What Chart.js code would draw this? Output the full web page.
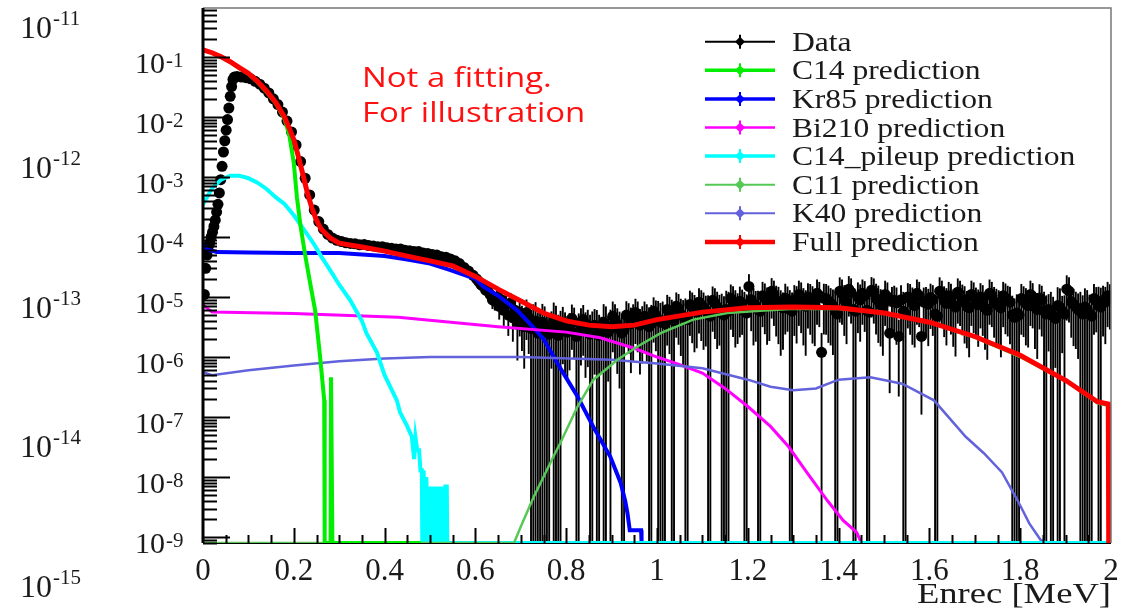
<!DOCTYPE html>
<html>
<head>
<meta charset="utf-8">
<title>Enrec spectrum</title>
<script src="https://cdn.jsdelivr.net/npm/chart.js@4.4.1/dist/chart.umd.min.js"></script>
<style>
  html, body { margin: 0; padding: 0; background: #fff; }
  #wrap { position: relative; width: 1135px; height: 612px; }
</style>
</head>
<body>
<div id="wrap"><canvas id="spectrum" width="1135" height="612"></canvas></div>
<script>
// axis range (log y), empty bins are drawn on the floor like ROOT does
const Y_MIN = 8e-10;
const Y_MAX = 0.65;
const X_MIN = 0;
const X_MAX = 2;

const yDecades = [-9, -8, -7, -6, -5, -4, -3, -2, -1];
const outerExponents = [-11, -12, -13, -14, -15];

const legendLabels = ['Data', 'C14 prediction', 'Kr85 prediction', 'Bi210 prediction',
  'C14_pileup prediction', 'C11 prediction', 'K40 prediction', 'Full prediction'];
const noteLines = ['Not a fitting.', 'For illustration'];
const xTitle = 'Enrec [MeV]';

// --- data: threshold rise ---
const riseX = [0.003, 0.006, 0.009, 0.012, 0.015, 0.018, 0.021, 0.024, 0.027, 0.030,
  0.033, 0.036, 0.039, 0.042, 0.045, 0.048, 0.051, 0.054, 0.057, 0.060, 0.063, 0.066, 0.069];
const riseY = [1.1e-5, 3e-5, 5e-5, 7e-5, 8e-5, 1e-4, 1.2e-4, 1.5e-4, 1.9e-4, 2.6e-4,
  3.5e-4, 5.4e-4, 9e-4, 1.5e-3, 2.6e-3, 4e-3, 6e-3, 9e-3, 1.4e-2, 2.2e-2, 3.2e-2, 4.2e-2, 4.6e-2];

// --- data: 0.01 MeV bins from 0.07 to 0.60 (centres 0.075 ...) ---
const coarseStart = 0.075;
const coarseWidth = 0.01;
const coarseY = [
  4.7e-2, 4.6e-2, 4.5e-2, 4.3e-2, 3.9e-2, 3.5e-2, 3.0e-2, 2.5e-2, 2.0e-2, 1.6e-2,
  1.2e-2, 8.5e-3, 5.6e-3, 3.4e-3, 1.8e-3, 9.5e-4, 5e-4, 2.8e-4, 1.8e-4, 1.35e-4,
  1.1e-4, 9.6e-5, 8.8e-5, 8.4e-5, 8e-5, 7.8e-5, 7.7e-5, 7.4e-5, 7.5e-5, 7.2e-5,
  7.1e-5, 6.9e-5, 6.9e-5, 6.6e-5, 6.5e-5, 6.3e-5, 6.3e-5, 6e-5, 5.9e-5, 5.7e-5,
  5.7e-5, 5.4e-5, 5.3e-5, 5.1e-5, 5e-5, 4.7e-5, 4.6e-5, 4.3e-5, 4e-5, 3.6e-5,
  3.1e-5, 2.7e-5, 2.3e-5
];
const coarseRelErr = [
  0, 0, 0, 0, 0, 0, 0, 0, 0, 0,
  0, 0, 0, 0, 0, 0, 0, 0, 0, 0,
  0.03, 0.03, 0.03, 0.03, 0.03, 0.03, 0.03, 0.03, 0.03, 0.03,
  0.04, 0.04, 0.04, 0.04, 0.04, 0.04, 0.04, 0.04, 0.04, 0.04,
  0.05, 0.05, 0.05, 0.06, 0.06, 0.06, 0.07, 0.07, 0.08, 0.08,
  0.08, 0.1, 0.12
];

// --- data: 0.005 MeV bins from 0.60 to 2.00 (centres 0.6025 ...), one row per 0.1 MeV ---
const fineStart = 0.6025;
const fineWidth = 0.005;
const fineY = [
  2.0e-5, 1.8e-5, 1.6e-5, 1.5e-5, 1.3e-5, 1.4e-5, 1.1e-5, 9e-6, 8.5e-6, 1e-5, 7e-6, 9e-6, 6e-6, 7.5e-6, 5e-6, 8e-6, 4.5e-6, 6e-6, 3.5e-6, 5.5e-6,
  4.2e-6, 3.2e-6, 5.5e-6, 4.5e-6, 3e-6, 3.6e-6, 4e-6, 2.5e-6, 2.8e-6, 3.8e-6, 3.4e-6, 2.6e-6, 2.4e-6, 3.2e-6, 4e-6, 3.5e-6, 2.3e-6, 2.8e-6, 3.8e-6, 3e-6,
  2.6e-6, 3e-6, 4.4e-6, 3.8e-6, 2.2e-6, 2.6e-6, 3.6e-6, 4.2e-6, 3e-6, 3.4e-6, 2.4e-6, 2.8e-6, 3.4e-6, 3e-6, 2.3e-6, 2.6e-6, 3.8e-6, 3.4e-6, 2.6e-6, 3e-6,
  4.8e-6, 4.2e-6, 3.5e-6, 3e-6, 2.5e-6, 2.8e-6, 5e-6, 4.5e-6, 3.6e-6, 4.2e-6, 5.5e-6, 4.8e-6, 3.4e-6, 3.9e-6, 4.8e-6, 4.2e-6, 3.2e-6, 3.6e-6, 5.8e-6, 5e-6,
  4.2e-6, 3.8e-6, 4e-6, 3.6e-6, 6.2e-6, 5.6e-6, 4.4e-6, 4e-6, 7e-6, 6.4e-6, 5.2e-6, 4.8e-6, 4.5e-6, 4.2e-6, 7.5e-6, 6.8e-6, 6e-6, 5.6e-6, 8.2e-6, 7.4e-6,
  6.6e-6, 6e-6, 5.2e-6, 4.8e-6, 8.8e-6, 8e-6, 6.8e-6, 6.2e-6, 5.4e-6, 5e-6, 6.2e-6, 5.8e-6, 9.5e-6, 8.6e-6, 7.2e-6, 6.6e-6, 8.5e-6, 7.8e-6, 5.8e-6, 5.4e-6,
  1.5e-5, 9e-6, 7.8e-6, 7.2e-6, 6.2e-6, 5.8e-6, 1.05e-5, 9.6e-6, 8e-6, 7.4e-6, 1.25e-5, 1.1e-5, 8.8e-6, 8.2e-6, 7e-6, 6.6e-6, 9.5e-6, 8.8e-6, 6.2e-6, 5.8e-6,
  9e-6, 8.4e-6, 1.1e-5, 1e-5, 7.8e-6, 7e-6, 1e-5, 9.4e-6, 8.4e-6, 7.6e-6, 1.15e-5, 1.05e-5, 1.2e-6, 9.5e-6, 9.4e-6, 8.6e-6, 7.8e-6, 7.2e-6, 5.8e-6, 5.2e-6,
  1.25e-5, 1.15e-5, 9e-6, 8.2e-6, 1.35e-5, 1.2e-5, 6.2e-6, 5.8e-6, 1e-5, 9e-6, 1.15e-5, 1.05e-5, 6e-6, 5.6e-6, 1.3e-5, 1.2e-5, 9.5e-6, 8.6e-6, 7.5e-6, 7e-6,
  1.1e-5, 1e-5, 2.5e-6, 8.4e-6, 8.8e-6, 8e-6, 2.2e-6, 9e-6, 5.8e-6, 5.2e-6, 1e-5, 9.4e-6, 8e-6, 7.2e-6, 1.15e-5, 1.05e-5, 2.2e-6, 8.2e-6, 8.4e-6, 7.6e-6,
  9.8e-6, 9e-6, 5.2e-6, 4.8e-6, 1.25e-5, 1.1e-5, 8.6e-6, 7.8e-6, 1.05e-5, 9.5e-6, 7.4e-6, 6.8e-6, 1.2e-5, 1.1e-5, 9.2e-6, 8.4e-6, 7e-6, 6.6e-6, 1.1e-5, 1e-5,
  8.2e-6, 7.4e-6, 1e-5, 9e-6, 6.6e-6, 6e-6, 1.15e-5, 1.05e-5, 8.4e-6, 7.6e-6, 7.2e-6, 6.6e-6, 1.05e-5, 9.6e-6, 8.8e-6, 8.2e-6, 5e-6, 4.6e-6, 5.4e-6, 5e-6,
  9.4e-6, 8.6e-6, 7.8e-6, 7.2e-6, 1.1e-5, 1e-5, 6.8e-6, 6.2e-6, 9.6e-6, 8.8e-6, 5.8e-6, 5.2e-6, 6.2e-6, 5.8e-6, 4.8e-6, 4.4e-6, 7.2e-6, 6.8e-6, 5.8e-6, 5.2e-6,
  1.35e-5, 1.25e-5, 8.4e-6, 7.6e-6, 6.8e-6, 6.2e-6, 5.8e-6, 5.2e-6, 6.8e-6, 6.2e-6, 5.2e-6, 4.8e-6, 9.4e-6, 8.6e-6, 7.2e-6, 6.8e-6, 8.8e-6, 8.2e-6, 1.05e-5, 9.6e-6
];
// relative error per bin (>= 1 means the bar reaches the floor)
const fineRelErr = [
  0.1, 0.12, 0.15, 0.15, 0.2, 0.2, 0.25, 0.3, 0.3, 0.3, 0.4, 0.35, 0.45, 0.4, 0.55, 0.45, 0.6, 0.5, 0.75, 0.6,
  0.7, 0.8, 0.65, 0.75, 1.05, 1.1, 1.05, 1.2, 1.1, 1.02, 1.05, 1.15, 1.1, 0.8, 1.02, 1.05, 1.2, 1.1, 0.8, 0.85,
  0.85, 0.8, 0.7, 0.75, 1.1, 1.05, 0.8, 0.75, 0.85, 0.8, 1.1, 1.05, 0.85, 1.02, 1.2, 0.8, 1.0, 1.05, 0.85, 1.05,
  0.75, 0.8, 0.85, 0.9, 1.1, 1.05, 0.7, 0.75, 0.85, 0.8, 0.7, 0.75, 0.85, 0.8, 0.75, 0.8, 1.1, 1.05, 0.7, 0.75,
  1.05, 1.1, 1.1, 1.05, 0.75, 0.8, 1.05, 1.1, 0.7, 0.75, 0.8, 0.85, 1.1, 1.05, 0.7, 0.75, 0.8, 0.75, 0.7, 0.75,
  0.8, 0.75, 1.05, 1.1, 0.7, 0.75, 0.8, 0.75, 1.1, 1.05, 1.05, 1.1, 0.7, 0.75, 0.8, 0.75, 0.75, 0.7, 1.1, 1.05,
  0.6, 0.7, 0.8, 0.75, 1.05, 1.1, 0.7, 0.75, 0.8, 0.75, 0.65, 0.7, 0.75, 0.8, 0.85, 0.8, 0.75, 0.7, 1.1, 1.05,
  0.75, 0.8, 0.7, 0.75, 0.8, 0.85, 0.7, 0.75, 0.8, 0.8, 0.7, 0.7, 1.1, 0.75, 0.75, 0.8, 0.8, 0.85, 1.1, 1.05,
  0.7, 0.7, 0.75, 0.8, 0.65, 0.7, 1.1, 1.05, 0.75, 0.8, 0.7, 0.75, 1.05, 1.1, 0.65, 0.7, 0.75, 0.8, 0.8, 0.85,
  0.7, 0.75, 0.9, 0.75, 0.75, 0.8, 0.9, 0.75, 1.1, 1.05, 0.7, 0.75, 0.8, 0.8, 0.7, 0.7, 0.95, 0.75, 0.75, 0.8,
  0.7, 0.75, 1.1, 1.05, 0.7, 0.7, 0.75, 0.8, 0.7, 0.75, 0.8, 0.85, 0.7, 0.7, 0.75, 0.8, 0.8, 0.85, 0.7, 0.75,
  0.75, 0.8, 0.7, 0.75, 0.8, 0.85, 0.7, 0.7, 0.75, 0.8, 0.8, 0.85, 0.7, 0.75, 0.75, 0.8, 1.1, 1.05, 1.05, 1.1,
  0.75, 0.75, 0.8, 0.8, 0.7, 0.7, 0.8, 0.85, 0.7, 0.75, 1.1, 1.05, 0.8, 1.1, 1.1, 0.85, 1.02, 1.05, 0.8, 1.05,
  0.7, 0.7, 0.75, 0.8, 0.8, 0.85, 1.1, 1.05, 1.05, 1.1, 1.1, 1.05, 0.75, 0.7, 1.05, 1.1, 0.75, 0.8, 0.7, 0.7
];

// --- predictions (0 = empty bin) ---
const c14X = [0, 0.02, 0.04, 0.06, 0.08, 0.10, 0.12, 0.14, 0.16, 0.18, 0.19, 0.20, 0.207, 0.215,
  0.225, 0.236, 0.247, 0.258, 0.267, 0.268, 0.281, 0.282, 0.284, 0.285, 0.48];
const c14Y = [0.13, 0.116, 0.099, 0.082, 0.065, 0.052, 0.038, 0.026, 0.017, 9e-3, 5e-3, 1.7e-3,
  4.5e-4, 1.5e-4, 5e-5, 1.7e-5, 6e-6, 1e-6, 1.9e-7, 0, 0, 4.6e-7, 4.6e-7, 0, 0];

const kr85X = [0, 0.01, 0.03, 0.1, 0.2, 0.3, 0.4, 0.45, 0.5, 0.545, 0.6, 0.617, 0.65, 0.692, 0.72,
  0.75, 0.78, 0.8, 0.825, 0.86, 0.897, 0.92, 0.93, 0.935, 0.94, 0.965, 0.966, 2.0];
const kr85Y = [7.4e-5, 6.2e-5, 5.6e-5, 5.5e-5, 5.4e-5, 5.4e-5, 4.8e-5, 4.2e-5, 3.6e-5, 2.8e-5, 2e-5,
  1.5e-5, 1.05e-5, 6e-6, 3.6e-6, 2e-6, 8e-7, 4.5e-7, 2.2e-7, 6.8e-8, 2.2e-8, 8e-9, 4e-9, 2.5e-9,
  1.3e-9, 1.3e-9, 0, 0];

const bi210X = [0, 0.02, 0.2, 0.43, 0.65, 0.8, 0.875, 0.95, 1.0, 1.05, 1.1, 1.15, 1.2, 1.25, 1.29,
  1.33, 1.376, 1.41, 1.44, 1.45];
const bi210Y = [7.4e-6, 5.6e-6, 5.3e-6, 4.6e-6, 3.2e-6, 2.6e-6, 2.1e-6, 1.4e-6, 1.0e-6, 7.5e-7,
  5.4e-7, 3e-7, 1.5e-7, 7e-8, 3.2e-8, 1.2e-8, 4e-9, 1.9e-9, 1.2e-9, 0];

const pileupX = [0, 0.02, 0.04, 0.06, 0.08, 0.10, 0.12, 0.14, 0.16, 0.18, 0.20, 0.22, 0.24, 0.25,
  0.26, 0.28, 0.30, 0.324, 0.35, 0.36, 0.383, 0.40, 0.427, 0.434, 0.45, 0.46, 0.465, 0.468, 0.472,
  0.476, 0.479, 0.482, 0.483, 0.486, 0.489, 0.492, 0.495, 0.498, 0.501, 0.504, 0.507, 0.51, 0.513,
  0.516, 0.519, 0.522, 0.525, 0.528, 0.531, 0.534, 0.537, 0.538, 2.0];
const pileupY = [3.5e-4, 6.5e-4, 9e-4, 1.05e-3, 1.05e-3, 9.5e-4, 8e-4, 6.3e-4, 4.6e-4, 3.5e-4,
  2.3e-4, 1.4e-4, 8.5e-5, 6.5e-5, 4.8e-5, 2.8e-5, 1.6e-5, 8.9e-6, 4e-6, 2.5e-6, 1.2e-6, 5e-7,
  1.9e-7, 1.2e-7, 7e-8, 4.7e-8, 2e-8, 4.6e-8, 2.8e-8, 2.8e-8, 1.3e-8, 1.3e-8, 0, 1.3e-8, 0,
  1e-8, 0, 7e-9, 0, 7e-9, 0, 7e-9, 0, 7e-9, 0, 7e-9, 0, 7e-9, 0, 7e-9, 7e-9, 0, 0];

const c11X = [0, 0.685, 0.70, 0.728, 0.772, 0.787, 0.825, 0.86, 0.913, 0.957, 1.008, 1.08, 1.155,
  1.228, 1.3, 1.4, 1.5, 1.6, 1.7, 1.8, 1.9, 1.97, 2.0];
const c11Y = [0, 0, 1.5e-9, 4.6e-9, 2.2e-8, 3.7e-8, 1.5e-7, 4.2e-7, 9e-7, 1.5e-6, 2.5e-6, 4.2e-6,
  5.4e-6, 5.9e-6, 6.4e-6, 6.3e-6, 5.3e-6, 3.7e-6, 2.1e-6, 1.0e-6, 4e-7, 1.7e-7, 1.5e-7];

const k40X = [0, 0.02, 0.1, 0.2, 0.3, 0.4, 0.5, 0.7, 0.9, 1.0, 1.1, 1.2, 1.25, 1.3, 1.35, 1.4, 1.47,
  1.54, 1.61, 1.68, 1.72, 1.76, 1.795, 1.82, 1.845, 1.86, 2.0];
const k40Y = [5.6e-7, 5e-7, 6e-7, 7.2e-7, 8.5e-7, 9.5e-7, 1e-6, 1e-6, 9e-7, 7.8e-7, 6.5e-7, 4.2e-7,
  3.2e-7, 2.8e-7, 3e-7, 4.2e-7, 4.6e-7, 3.6e-7, 1.9e-7, 4.7e-8, 2.5e-8, 1.2e-8, 4e-9, 1.7e-9,
  9e-10, 0, 0];

const fullX = [0, 0.02, 0.04, 0.06, 0.08, 0.10, 0.12, 0.14, 0.16, 0.18, 0.20, 0.21, 0.22, 0.23,
  0.24, 0.25, 0.26, 0.28, 0.30, 0.35, 0.40, 0.45, 0.50, 0.55, 0.60, 0.65, 0.70, 0.75, 0.80, 0.85,
  0.90, 0.95, 1.0, 1.1, 1.2, 1.3, 1.4, 1.5, 1.6, 1.7, 1.8, 1.9, 1.97, 1.994, 1.995];
const fullY = [0.131, 0.117, 0.1, 0.083, 0.066, 0.053, 0.039, 0.027, 0.0175, 9.8e-3, 4.2e-3,
  2.2e-3, 1.1e-3, 5.4e-4, 3e-4, 1.9e-4, 1.35e-4, 9.6e-5, 7.9e-5, 6.8e-5, 5.8e-5, 4.8e-5, 4e-5,
  3.3e-5, 2.2e-5, 1.35e-5, 8.6e-6, 5.4e-6, 4e-6, 3.4e-6, 3.2e-6, 3.4e-6, 4.2e-6, 5.6e-6, 6.6e-6,
  6.8e-6, 6.6e-6, 5.4e-6, 3.8e-6, 2.2e-6, 1.07e-6, 4.1e-7, 1.8e-7, 1.65e-7, 0];

// ---------------------------------------------------------------
const SERIF = '"Liberation Serif", "DejaVu Serif", serif';
// the reference picture is stretched sideways a little
const TEXT_STRETCH = 1.17;

// empty bins sit on the frame floor
function points(xs, ys) {
  return xs.map((x, i) => ({ x: x, y: ys[i] > 0 ? ys[i] : Y_MIN }));
}
function binned(start, width, ys) {
  return ys.map((v, i) => ({ x: start + width * i, y: v }));
}

const dataPoints = points(riseX, riseY)
  .concat(binned(coarseStart, coarseWidth, coarseY))
  .concat(binned(fineStart, fineWidth, fineY));
const dataErr = riseX.map(() => 0).concat(coarseRelErr).concat(fineRelErr);

// style per legend entry (same order as legendLabels)
const styles = [
  { color: '#000000', width: 2 },
  { color: '#00ee00', width: 4 },
  { color: '#0000ff', width: 4 },
  { color: '#ff00ff', width: 3 },
  { color: '#00ffff', width: 4 },
  { color: '#55c855', width: 2.5 },
  { color: '#6262dc', width: 2.5 },
  { color: '#ff0000', width: 5 }
];

function lineSet(i, pts, order) {
  return {
    label: legendLabels[i],
    data: pts,
    borderColor: styles[i].color,
    borderWidth: styles[i].width,
    pointRadius: 0,
    tension: 0,
    fill: false,
    order: order
  };
}

const datasets = [
  {
    label: legendLabels[0],
    data: dataPoints,
    relErr: dataErr,
    showLine: false,
    pointRadius: 5.5,
    pointStyle: 'circle',
    pointBackgroundColor: '#000',
    pointBorderWidth: 0,
    order: 7
  },
  lineSet(1, points(c14X, c14Y), 1),
  lineSet(2, points(kr85X, kr85Y), 6),
  lineSet(3, points(bi210X, bi210Y), 5),
  lineSet(4, points(pileupX, pileupY), 3),
  lineSet(5, points(c11X, c11Y), 2),
  lineSet(6, points(k40X, k40Y), 4),
  lineSet(7, points(fullX, fullY), 0)
];

function stretchText(ctx, text, x, y, sx) {
  ctx.save();
  ctx.translate(x, y);
  ctx.scale(sx, 1);
  ctx.fillText(text, 0, 0);
  ctx.restore();
}

// black floor of the frame, drawn first so the coloured lines cover it
const floorLine = {
  id: 'floorLine',
  beforeDatasetsDraw(chart) {
    const { ctx, chartArea: a } = chart;
    ctx.save();
    ctx.strokeStyle = '#000';
    ctx.lineWidth = 2;
    ctx.beginPath();
    ctx.moveTo(a.left, a.bottom);
    ctx.lineTo(a.right, a.bottom);
    ctx.stroke();
    ctx.restore();
  }
};

// vertical error bars under the data markers
const errorBars = {
  id: 'errorBars',
  beforeDatasetDraw(chart, args) {
    const ds = chart.data.datasets[args.index];
    if (!ds.relErr) return;
    const { ctx, chartArea: a, scales: { x, y } } = chart;
    ctx.save();
    ctx.beginPath();
    ctx.rect(a.left, a.top, a.width, a.height);
    ctx.clip();
    ctx.strokeStyle = '#000';
    ctx.lineWidth = 1.9;
    ds.data.forEach((p, i) => {
      const r = ds.relErr[i];
      if (!r) return;
      const lo = p.y * (1 - r);
      const px = x.getPixelForValue(p.x);
      const yHi = y.getPixelForValue(p.y * (1 + r));
      const yLo = lo > Y_MIN ? y.getPixelForValue(lo) : a.bottom;
      ctx.beginPath();
      ctx.moveTo(px, yHi);
      ctx.lineTo(px, yLo);
      ctx.stroke();
    });
    ctx.restore();
  }
};

function powerLabel(ctx, x, base, exp, size, supSize, supRise) {
  ctx.font = size + 'px ' + SERIF;
  ctx.fillText('10', x, base);
  const w = ctx.measureText('10').width;
  ctx.font = supSize + 'px ' + SERIF;
  ctx.fillText(String(exp), x + w + 1, base - supRise);
}

// ROOT-like frame, inner ticks, labels, legend and note
const decorations = {
  id: 'decorations',
  afterDatasetsDraw(chart) {
    const { ctx, chartArea: a, scales: { x, y } } = chart;
    ctx.save();
    ctx.strokeStyle = '#000';
    ctx.lineWidth = 2;

    // y ticks, major at decades
    for (let e = -10; e <= 0; e++) {
      for (let m = 1; m <= 9; m++) {
        const v = m * Math.pow(10, e);
        if (v < Y_MIN * 0.999 || v > Y_MAX) continue;
        const py = Math.round(y.getPixelForValue(v)) + 0.5;
        const len = m === 1 ? 27 : 14;
        ctx.beginPath();
        ctx.moveTo(a.left, py);
        ctx.lineTo(a.left + len, py);
        ctx.stroke();
      }
    }
    // x ticks every 0.05, major every 0.2
    for (let i = 1; i < 40; i++) {
      const px = Math.round(x.getPixelForValue(i * 0.05)) + 0.5;
      const len = i % 4 === 0 ? 15 : 8;
      ctx.beginPath();
      ctx.moveTo(px, a.bottom);
      ctx.lineTo(px, a.bottom - len);
      ctx.stroke();
    }

    // frame
    ctx.strokeStyle = '#777';
    ctx.lineWidth = 1.5;
    ctx.beginPath();
    ctx.moveTo(a.left, a.top);
    ctx.lineTo(a.right, a.top);
    ctx.lineTo(a.right, a.bottom);
    ctx.stroke();
    ctx.strokeStyle = '#000';
    ctx.lineWidth = 3;
    ctx.beginPath();
    ctx.moveTo(a.left, a.top);
    ctx.lineTo(a.left, a.bottom);
    ctx.stroke();

    // y tick labels
    ctx.fillStyle = '#1a1a1a';
    ctx.textAlign = 'left';
    ctx.textBaseline = 'alphabetic';
    yDecades.forEach(e => {
      const py = y.getPixelForValue(Math.pow(10, e));
      powerLabel(ctx, 135, py + 16, e, 30, 21, 6);
    });

    // stray labels at the far left
    outerExponents.forEach((e, i) => {
      powerLabel(ctx, 20, 38 + i * 139.8, e, 32, 21, 13);
    });

    // x axis title, right aligned on the frame edge
    ctx.font = '30px ' + SERIF;
    const tw = ctx.measureText(xTitle).width * 1.22;
    stretchText(ctx, xTitle, a.right - tw, 603, 1.22);

    // legend
    legendLabels.forEach((label, i) => {
      const cy = 41.7 + i * 28.6;
      const st = styles[i];
      ctx.strokeStyle = st.color;
      ctx.fillStyle = st.color;
      ctx.lineWidth = Math.max(2, st.width - 0.5);
      ctx.beginPath();
      ctx.moveTo(705, cy);
      ctx.lineTo(775, cy);
      ctx.stroke();
      ctx.lineWidth = 2;
      ctx.beginPath();
      ctx.moveTo(740, cy - 7);
      ctx.lineTo(740, cy + 7);
      ctx.stroke();
      ctx.beginPath();
      ctx.moveTo(740, cy - 5);
      ctx.lineTo(745, cy);
      ctx.lineTo(740, cy + 5);
      ctx.lineTo(735, cy);
      ctx.closePath();
      ctx.fill();
      ctx.fillStyle = '#1a1a1a';
      ctx.font = '27px ' + SERIF;
      stretchText(ctx, label, 792, cy + 9, TEXT_STRETCH);
    });

    // note
    ctx.fillStyle = '#ff1010';
    ctx.font = '27px "Open Sans", "Noto Sans", sans-serif';
    stretchText(ctx, noteLines[0], 362, 87, 1.22);
    stretchText(ctx, noteLines[1], 362, 122, 1.22);
    ctx.restore();
  }
};

new Chart(document.getElementById('spectrum'), {
  type: 'line',
  data: { datasets: datasets },
  options: {
    responsive: false,
    animation: false,
    devicePixelRatio: 1,
    layout: { padding: { top: 8, right: 24, left: 0, bottom: 0 } },
    plugins: {
      legend: { display: false },
      tooltip: { enabled: false }
    },
    scales: {
      x: {
        type: 'linear',
        min: X_MIN,
        max: X_MAX,
        grid: { display: false },
        border: { display: false },
        ticks: {
          stepSize: 0.2,
          padding: 2,
          color: '#1a1a1a',
          font: { family: SERIF, size: 31 },
          maxRotation: 0,
          callback: v => String(Number(v.toFixed(1)))
        },
        afterFit: s => { s.height = 69; }
      },
      y: {
        type: 'logarithmic',
        min: Y_MIN,
        max: Y_MAX,
        grid: { display: false },
        border: { display: false },
        ticks: { display: false },
        afterFit: s => { s.width = 203; }
      }
    }
  },
  plugins: [floorLine, errorBars, decorations]
});
</script>
</body>
</html>
